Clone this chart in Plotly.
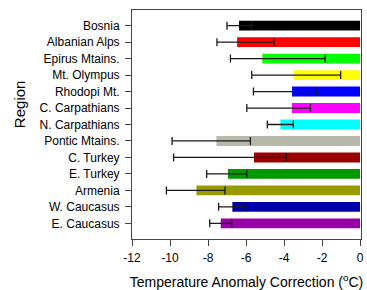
import plotly.graph_objects as go

regions = ["Bosnia", "Albanian Alps", "Epirus Mtains.", "Mt. Olympus", "Rhodopi Mt.",
           "C. Carpathians", "N. Carpathians", "Pontic Mtains.", "C. Turkey", "E. Turkey",
           "Armenia", "W. Caucasus", "E. Caucasus"]
values = [-6.37, -6.47, -5.14, -3.51, -3.58, -3.58, -4.19, -7.56, -5.58, -6.95, -8.61, -6.72, -7.33]
err_low = [-7.00, -7.53, -6.82, -5.70, -5.61, -5.96, -4.88, -9.89, -9.81, -8.07, -10.19, -7.44, -7.91]
err_high = [-5.70, -4.53, -1.84, -1.02, -2.32, -2.61, -3.51, -5.77, -3.88, -5.96, -7.11, -6.05, -6.75]
colors = ["#000000", "#ff0000", "#00ff00", "#ffff00", "#0000ff", "#ff00ff", "#00ffff",
          "#b9b9ab", "#990000", "#009900", "#999900", "#0000aa", "#9900a8"]
x_ticks = [-12, -10, -8, -6, -4, -2, 0]

plus = [h - v for h, v in zip(err_high, values)]
minus = [v - l for v, l in zip(values, err_low)]

fig = go.Figure()
fig.add_trace(go.Bar(
    y=regions, x=values, orientation="h", marker=dict(color=colors, line=dict(width=0)),
    width=0.6, hoverinfo="skip",
    error_x=dict(type="data", symmetric=False, array=plus, arrayminus=minus,
                 color="#1a1a1a", thickness=1.3, width=4),
))

fig.update_layout(
    width=367, height=290,
    margin=dict(l=132, r=6, t=10, b=51),
    paper_bgcolor="white", plot_bgcolor="white",
    font=dict(family="Liberation Sans, Arial, sans-serif", size=12, color="black"),
    showlegend=False,
    annotations=[dict(
        text="Region", textangle=-90, xref="paper", yref="paper",
        x=-0.488, y=0.59, xanchor="center", yanchor="middle", showarrow=False,
        font=dict(size=15, color="black"),
    )],
)
fig.update_xaxes(
    range=[-12, 0.05], tickvals=x_ticks, ticktext=[str(t) for t in x_ticks],
    ticks="outside", ticklen=6, tickcolor="#444444", showgrid=False, zeroline=False,
    showline=True, linecolor="#444444", linewidth=1, mirror=True, automargin=False,
    ticklabelstandoff=2,
    title=dict(text="Temperature Anomaly Correction (<sup>o</sup>C)", font=dict(size=14), standoff=15),
)
fig.update_yaxes(
    categoryorder="array", categoryarray=regions, autorange=False, range=[12.95, -0.95],
    ticks="outside", ticklen=6, tickcolor="#444444", showgrid=False, zeroline=False,
    showline=True, linecolor="#444444", linewidth=1, mirror=True, automargin=False,
    ticklabelstandoff=3,
)

fig.write_html("out.html", config={"displayModeBar": False},
               post_script="document.body.style.margin='0px';document.body.style.overflow='hidden';")
